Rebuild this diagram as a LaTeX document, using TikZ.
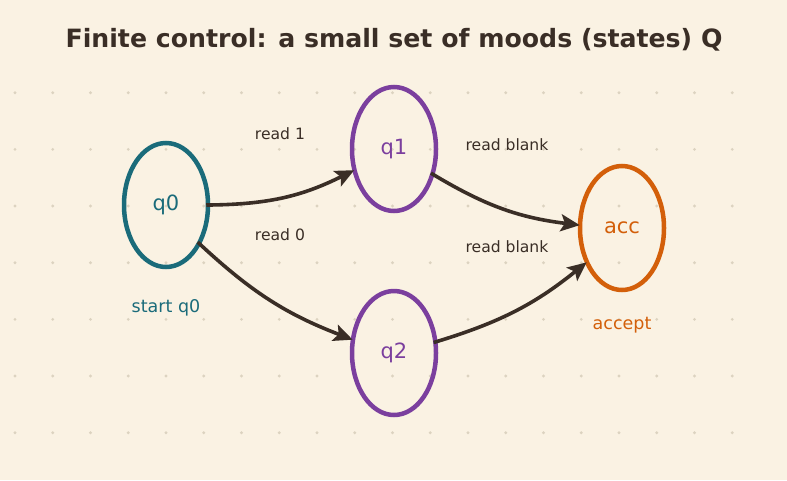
\documentclass[tikz,border=0pt]{standalone}
\usepackage{fontspec}
\setmainfont{DejaVu Sans}
\usetikzlibrary{shapes.geometric,arrows.meta}
\definecolor{bg}{HTML}{FAF2E3}
\definecolor{ink}{HTML}{3A2E26}
\definecolor{teal}{HTML}{1A6B7A}
\definecolor{purp}{HTML}{7B3F9E}
\definecolor{orng}{HTML}{D35F0A}
\definecolor{dotc}{HTML}{DCD3C0}
\tikzset{
  state/.style={ellipse, draw, line width=4.5pt, minimum width=84pt, minimum height=124pt, inner sep=0pt, font=\fontsize{21}{25}\selectfont},
  edge/.style={draw=ink, line width=3.6pt, shorten <=-4pt, shorten >=-2pt, arrows={-Stealth[length=19pt 0, width=17pt 0, inset=4pt 0]}},
  lbl/.style={text=ink, font=\fontsize{15.6}{18}\selectfont},
  note/.style={font=\fontsize{17.5}{20}\selectfont},
}
\begin{document}
\begin{tikzpicture}[x=1pt,y=-1pt]
\fill[bg] (0,0) rectangle (787,480);
\useasboundingbox (0,0) rectangle (787,480);
\foreach \i in {0,...,19} {
  \foreach \j in {0,...,6} {
    \fill[dotc] (15+37.75*\i, 92.7+56.67*\j) circle (1.6pt);
  }
}
\node[text=ink, font=\bfseries\fontsize{25.2}{30}\selectfont] (title) at (394,40) {Finite control: a small set of moods (states) Q};
\node[state, draw=teal, text=teal] (q0) at (166,205) {q0};
\node[state, draw=purp, text=purp] (q1) at (394,149) {q1};
\node[state, draw=purp, text=purp] (q2) at (394,353) {q2};
\node[state, draw=orng, text=orng] (acc) at (622,228) {acc};
\draw[edge] (q0.east) to[bend right=13] (q1.208);
\draw[edge] (q0.-49) to[bend right=11] (q2.162);
\draw[edge] (q1.-33) to[bend right=12] (acc.176);
\draw[edge] (q2.15) to[bend right=11] (acc.224);
\node[lbl] (l1) at (280,134) {read 1};
\node[lbl] (l0) at (280,235) {read 0};
\node[lbl] (lb1) at (507,145) {read blank};
\node[lbl] (lb2) at (507,247) {read blank};
\node[note, text=teal] (s0) at (166,308) {start q0};
\node[note, text=orng] (sa) at (622,325) {accept};
\end{tikzpicture}
\end{document}
